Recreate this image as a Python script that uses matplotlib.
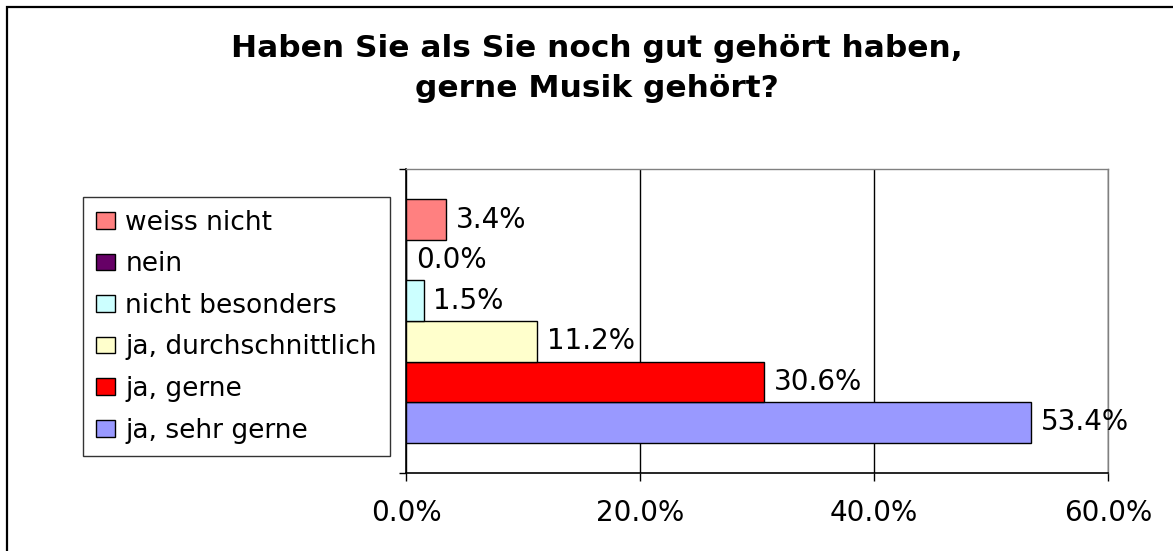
import matplotlib
matplotlib.use('Agg')
import matplotlib.pyplot as plt
from matplotlib.patches import Rectangle
from matplotlib.ticker import FuncFormatter

# answers, bottom bar first
labels = ['ja, sehr gerne', 'ja, gerne', 'ja, durchschnittlich',
          'nicht besonders', 'nein', 'weiss nicht']
values = [53.4, 30.6, 11.2, 1.5, 0.0, 3.4]
colors = ['#9999FF', '#FF0000', '#FFFFCC', '#CCFFFF', '#660066', '#FF8080']
xticks = [0, 20, 40, 60]

title1 = 'Haben Sie als Sie noch gut gehört haben,'
title2 = 'gerne Musik gehört?'

W, H = 1173, 551
fig = plt.figure(figsize=(W / 100, H / 100), dpi=100)
plt.rcParams['font.family'] = 'DejaVu Sans'

# plot area in pixels: left 406, right 1108, top 169, bottom 473
ax = fig.add_axes([406 / W, 1 - 473 / H, 702 / W, 304 / H])

handles = []
for i, (lab, v, c) in enumerate(zip(labels, values, colors)):
    b = ax.barh(i, v, height=1.0, color=c, edgecolor='black', linewidth=1.0, label=lab)
    ax.bar_label(b, labels=[f'{v:.1f}%'], padding=7, fontsize=20)
    handles.append(b)

ax.set_xlim(0, 60)
ax.set_ylim(-1.245, 6.245)
ax.set_xticks(xticks)
ax.xaxis.set_major_formatter(FuncFormatter(lambda x, p: f'{x:.1f}%'))
ax.tick_params(axis='x', direction='out', length=6, width=1, pad=13, labelsize=20)
ax.set_yticks([-1.245, 6.245])
ax.set_yticklabels([])
ax.tick_params(axis='y', direction='out', length=5, width=1)
ax.grid(axis='x', color='black', linewidth=1)
ax.set_axisbelow(True)
for s in ['left', 'bottom']:
    ax.spines[s].set_color('black')
    ax.spines[s].set_linewidth(1.2)
for s in ['top', 'right']:
    ax.spines[s].set_color('#808080')
    ax.spines[s].set_linewidth(1.0)

# legend, top entry = weiss nicht
leg = fig.legend(handles[::-1], labels[::-1], loc='upper left',
                 bbox_to_anchor=(83 / W, 1 - 197 / H), bbox_transform=fig.transFigure,
                 fontsize=19, frameon=True, fancybox=False, edgecolor='black',
                 handlelength=0.72, handleheight=0.6, handletextpad=0.4,
                 borderpad=0.48, labelspacing=0.59, borderaxespad=0)
leg.get_frame().set_linewidth(1.0)

fig.text(597 / W, 1 - 57 / H, title1, ha='center', va='baseline',
         fontsize=22.5, fontweight='bold')
fig.text(597 / W, 1 - 97 / H, title2, ha='center', va='baseline',
         fontsize=22.5, fontweight='bold')

# outer chart border (runs off the right and bottom edge)
fig.add_artist(Rectangle((7 / W, -0.1), 1.2, 1.1 - 7 / H, transform=fig.transFigure,
                         fill=False, edgecolor='black', linewidth=1.6))

fig.savefig('out.png', dpi=100)
